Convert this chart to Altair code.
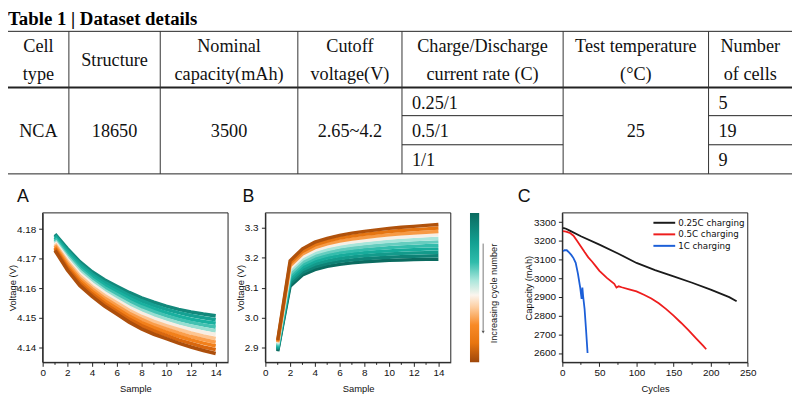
import altair as alt
import pandas as pd

# ----------------------------- data -----------------------------
table_title = "Table 1 | Dataset details"
header_labels = ["Cell\ntype", "Structure", "Nominal\ncapacity(mAh)", "Cutoff\nvoltage(V)",
                 "Charge/Discharge\ncurrent rate (C)", "Test temperature\n(°C)", "Number\nof cells"]
merged_values = ["NCA", "18650", "3500", "2.65~4.2", "25"]
merged_columns = [0, 1, 2, 3, 5]
rate_values = ["0.25/1", "0.5/1", "1/1"]
cell_counts = ["5", "19", "9"]

samples = list(range(1, 15))
# panel A: voltage curves, earliest cycle (top) to latest cycle (bottom)
voltage_a = [
    [4.1783, 4.1734, 4.1690, 4.1656, 4.1629, 4.1607, 4.1586, 4.1568, 4.1553, 4.1540, 4.1529, 4.1520, 4.1513, 4.1507],
    [4.1778, 4.1727, 4.1682, 4.1648, 4.1620, 4.1598, 4.1576, 4.1558, 4.1542, 4.1529, 4.1518, 4.1508, 4.1501, 4.1494],
    [4.1772, 4.1720, 4.1674, 4.1639, 4.1611, 4.1588, 4.1566, 4.1547, 4.1531, 4.1518, 4.1506, 4.1496, 4.1488, 4.1482],
    [4.1767, 4.1712, 4.1666, 4.1631, 4.1602, 4.1579, 4.1556, 4.1537, 4.1521, 4.1507, 4.1495, 4.1485, 4.1476, 4.1469],
    [4.1761, 4.1705, 4.1658, 4.1623, 4.1593, 4.1569, 4.1546, 4.1526, 4.1510, 4.1496, 4.1483, 4.1473, 4.1464, 4.1456],
    [4.1756, 4.1698, 4.1650, 4.1615, 4.1585, 4.1560, 4.1536, 4.1516, 4.1499, 4.1485, 4.1472, 4.1461, 4.1452, 4.1444],
    [4.1750, 4.1691, 4.1642, 4.1606, 4.1576, 4.1551, 4.1526, 4.1505, 4.1488, 4.1474, 4.1461, 4.1449, 4.1439, 4.1431],
    [4.1745, 4.1684, 4.1634, 4.1598, 4.1567, 4.1541, 4.1516, 4.1495, 4.1477, 4.1463, 4.1449, 4.1437, 4.1427, 4.1418],
    [4.1739, 4.1676, 4.1626, 4.1590, 4.1558, 4.1532, 4.1506, 4.1484, 4.1467, 4.1452, 4.1438, 4.1426, 4.1415, 4.1405],
    [4.1734, 4.1669, 4.1618, 4.1581, 4.1549, 4.1522, 4.1496, 4.1474, 4.1456, 4.1441, 4.1426, 4.1414, 4.1402, 4.1393],
    [4.1728, 4.1662, 4.1610, 4.1573, 4.1540, 4.1513, 4.1486, 4.1463, 4.1445, 4.1430, 4.1415, 4.1402, 4.1390, 4.1380],
]
colors_a = ["#12887b", "#15a193", "#19b09f", "#42c1b1", "#97ded1", "#f7eee4",
            "#fdc592", "#fa9d4a", "#f2801b", "#d9670e", "#ad4f0c"]
# panel B: voltage curves, earliest cycle (bottom) to latest cycle (top)
voltage_b = [
    [2.8870, 3.1050, 3.1420, 3.1600, 3.1710, 3.1780, 3.1830, 3.1865, 3.1890, 3.1910, 3.1925, 3.1935, 3.1945, 3.1950],
    [2.8908, 3.1135, 3.1508, 3.1692, 3.1804, 3.1877, 3.1929, 3.1967, 3.1994, 3.2017, 3.2035, 3.2047, 3.2059, 3.2066],
    [2.8946, 3.1220, 3.1596, 3.1784, 3.1898, 3.1974, 3.2028, 3.2068, 3.2098, 3.2124, 3.2144, 3.2158, 3.2172, 3.2182],
    [2.8984, 3.1305, 3.1684, 3.1876, 3.1992, 3.2071, 3.2127, 3.2170, 3.2202, 3.2231, 3.2254, 3.2270, 3.2286, 3.2298],
    [2.9022, 3.1390, 3.1772, 3.1968, 3.2086, 3.2168, 3.2226, 3.2271, 3.2306, 3.2338, 3.2363, 3.2381, 3.2399, 3.2414],
    [2.9060, 3.1475, 3.1860, 3.2060, 3.2180, 3.2265, 3.2325, 3.2373, 3.2410, 3.2445, 3.2473, 3.2493, 3.2513, 3.2530],
    [2.9098, 3.1560, 3.1948, 3.2152, 3.2274, 3.2362, 3.2424, 3.2474, 3.2514, 3.2552, 3.2582, 3.2604, 3.2626, 3.2646],
    [2.9136, 3.1645, 3.2036, 3.2244, 3.2368, 3.2459, 3.2523, 3.2576, 3.2618, 3.2659, 3.2692, 3.2716, 3.2740, 3.2762],
    [2.9174, 3.1730, 3.2124, 3.2336, 3.2462, 3.2556, 3.2622, 3.2677, 3.2722, 3.2766, 3.2801, 3.2827, 3.2853, 3.2878],
    [2.9212, 3.1815, 3.2212, 3.2428, 3.2556, 3.2653, 3.2721, 3.2779, 3.2826, 3.2873, 3.2911, 3.2939, 3.2967, 3.2994],
    [2.9250, 3.1900, 3.2300, 3.2520, 3.2650, 3.2750, 3.2820, 3.2880, 3.2930, 3.2980, 3.3020, 3.3050, 3.3080, 3.3110],
]
colors_b = ["#0b6b60", "#0f8276", "#139a8b", "#17ab9b", "#33bcac", "#66cdbf",
            "#a8e5da", "#f6efe6", "#f79a45", "#e57512", "#b0520c"]
colorbar_stops = [(0.0, "#0b6b60"), (0.2, "#13a092"), (0.33, "#2fbcab"), (0.45, "#a9e6db"),
                  (0.55, "#fbf5ee"), (0.63, "#fdcfa2"), (0.75, "#f88a27"), (0.87, "#e8750f"),
                  (1.0, "#9e470b")]

# panel C: capacity vs cycles
c_series = ["0.25C charging", "0.5C charging", "1C charging"]
c_colors = ["#1a1a1a", "#ee1d1d", "#1c5fd8"]
cycles_025 = [1, 5, 10, 25, 50, 75, 100, 125, 150, 175, 200, 225, 235]
cap_025 = [3270, 3265, 3255, 3225, 3180, 3133, 3082, 3044, 3010, 2976, 2939, 2899, 2877]
cycles_05 = [1, 5, 10, 15, 20, 25, 30, 35, 40, 45, 50, 60, 70, 73, 76, 80, 90, 100,
             110, 120, 130, 140, 150, 160, 170, 180, 190, 194]
cap_05 = [3252, 3250, 3243, 3228, 3200, 3170, 3140, 3112, 3090, 3065, 3040, 3002, 2970, 2950,
          2957, 2952, 2941, 2930, 2912, 2892, 2866, 2835, 2800, 2762, 2722, 2680, 2638, 2620]
cycles_1 = [1, 3, 6, 9, 12, 15, 18, 21, 24, 26, 27, 28, 30, 32, 34]
cap_1 = [3145, 3150, 3150, 3138, 3125, 3108, 3083, 3025, 2952, 2890, 2950, 2905, 2835, 2722, 2600]

# axis ticks
ticks_sample = [0, 2, 4, 6, 8, 10, 12, 14]
minor_sample = [1, 3, 5, 7, 9, 11, 13]
ticks_va = [4.14, 4.15, 4.16, 4.17, 4.18]
ticks_vb = [2.9, 3.0, 3.1, 3.2, 3.3]
ticks_cycles = [0, 50, 100, 150, 200, 250]
minor_cycles = [25, 75, 125, 175, 225]
ticks_cap = [2600, 2700, 2800, 2900, 3000, 3100, 3200, 3300]

# ----------------------------- layout -----------------------------
W, H = 792, 386
COL = [0, 61.5, 153.8, 292.8, 398.0, 560.8, 707.7, 792]
T_TOP, T_HEAD, T_BOT = 21.6, 78.4, 165.6
T_ROWS = [106.8, 136.2]
HEAD_LINE1, HEAD_MID, HEAD_LH = 36.8, 50.6, 27.6
PY0, PY1 = 205.0, 356.0
AX = (35.0, 222.3)
BX = (260.0, 447.3)
CX = (560.0, 747.3)
YTITLE_X = {"A": 4.2, "B": 234.5, "C": 526.0}

SERIF = "Liberation Serif, Times New Roman, serif"
SANS = "Liberation Sans, Arial, sans-serif"
LEG = "DejaVu Sans, sans-serif"

px_x = alt.Scale(domain=[0, W], range=[0, W], nice=False, zero=False)
px_y = alt.Scale(domain=[0, H], range=[0, H], nice=False, zero=False)


def PX(f):
    return alt.X(f, type="quantitative", scale=px_x, axis=None)


def PY(f):
    return alt.Y(f, type="quantitative", scale=px_y, axis=None)


# ---- table geometry ----
hl = [dict(x=0, x2=W, y=T_TOP, w=1.0), dict(x=0, x2=W, y=T_HEAD, w=2.0), dict(x=0, x2=W, y=T_BOT, w=1.0)]
for yy in T_ROWS:
    hl.append(dict(x=COL[4], x2=COL[5], y=yy, w=1.0))
    hl.append(dict(x=COL[6], x2=COL[7], y=yy, w=1.0))
hl_df = pd.DataFrame(hl)
vl_df = pd.DataFrame([dict(x=c, y=T_TOP, y2=T_BOT) for c in COL[1:7]])

head_df = pd.DataFrame(dict(
    t=header_labels,
    x=[(COL[i] + COL[i + 1]) / 2 for i in range(7)],
    y=[HEAD_LINE1 if "\n" in lab else HEAD_MID for lab in header_labels],
))
merged_df = pd.DataFrame(dict(
    t=merged_values,
    x=[(COL[i] + COL[i + 1]) / 2 for i in merged_columns],
    y=[(T_HEAD + T_BOT) / 2 + 0.5] * len(merged_values),
))
row_bounds = [T_HEAD] + T_ROWS + [T_BOT]
row_centers = [(row_bounds[i] + row_bounds[i + 1]) / 2 + 1 for i in range(3)]
left_df = pd.DataFrame(dict(
    t=rate_values + cell_counts,
    x=[COL[4] + 10] * 3 + [COL[6] + 10] * 3,
    y=row_centers * 2,
))
title_df = pd.DataFrame(dict(t=[table_title], x=[0], y=[15]))

rules_h = alt.Chart(hl_df).mark_rule(color="#222").encode(
    x=PX("x"), x2=alt.X2("x2"), y=PY("y"), strokeWidth=alt.StrokeWidth("w:Q", scale=None))
rules_v = alt.Chart(vl_df).mark_rule(color="#333", strokeWidth=1).encode(
    x=PX("x"), y=PY("y"), y2=alt.Y2("y2"))
head_txt = alt.Chart(head_df).mark_text(font=SERIF, fontSize=18.4, lineBreak="\n", lineHeight=HEAD_LH,
                                        align="center", baseline="middle", color="#111").encode(
    x=PX("x"), y=PY("y"), text="t:N")
merged_txt = alt.Chart(merged_df).mark_text(font=SERIF, fontSize=18.4, align="center",
                                            baseline="middle", color="#111").encode(
    x=PX("x"), y=PY("y"), text="t:N")
left_txt = alt.Chart(left_df).mark_text(font=SERIF, fontSize=18.4, align="left",
                                        baseline="middle", color="#111").encode(
    x=PX("x"), y=PY("y"), text="t:N")
title_txt = alt.Chart(title_df).mark_text(font=SERIF, fontSize=19, fontWeight="bold", align="left",
                                          baseline="alphabetic", color="#000").encode(
    x=PX("x"), y=PY("y"), text="t:N")

# ---- panel decorations ----
panel_df = pd.DataFrame(dict(t=["A", "B", "C"], x=[9, 237, 515], y=[189.5] * 3))
panel_txt = alt.Chart(panel_df).mark_text(font=SANS, fontSize=18, align="left", baseline="middle",
                                          color="#111").encode(x=PX("x"), y=PY("y"), text="t:N")
frames_df = pd.DataFrame(dict(x=[AX[0], BX[0], CX[0]], x2=[AX[1], BX[1], CX[1]],
                              y=[PY0] * 3, y2=[PY1] * 3))
frames = alt.Chart(frames_df).mark_rect(filled=False, stroke="#222", strokeWidth=1).encode(
    x=PX("x"), x2=alt.X2("x2"), y=PY("y"), y2=alt.Y2("y2"))

grad = alt.LinearGradient(gradient="linear", x1=0, x2=0, y1=0, y2=1,
                          stops=[alt.GradientStop(offset=o, color=c) for o, c in colorbar_stops])
cbar_df = pd.DataFrame(dict(x=[466.7], x2=[476.0], y=[PY0], y2=[PY1]))
cbar = alt.Chart(cbar_df).mark_rect(color=grad).encode(
    x=PX("x"), x2=alt.X2("x2"), y=PY("y"), y2=alt.Y2("y2"))
arrow_df = pd.DataFrame(dict(x=[480.0], y=[236.0], y2=[324.0]))
arrow = alt.Chart(arrow_df).mark_rule(color="#777", strokeWidth=1).encode(
    x=PX("x"), y=PY("y"), y2=alt.Y2("y2"))
head_df2 = pd.DataFrame(dict(x=[480.0], y=[325.5]))
arrow_head = alt.Chart(head_df2).mark_point(shape="triangle-down", filled=True, size=10,
                                            color="#555", opacity=1).encode(x=PX("x"), y=PY("y"))
cbar_lab_df = pd.DataFrame(dict(t=["Increasing cycle number"], x=[491.0], y=[286.5]))
cbar_lab = alt.Chart(cbar_lab_df).mark_text(font=SANS, fontSize=9.3, angle=270, align="center",
                                            baseline="middle", color="#222").encode(
    x=PX("x"), y=PY("y"), text="t:N")

# ---- legend of panel C ----
leg_df = pd.DataFrame(dict(t=c_series, col=c_colors, y=[215.0, 226.7, 238.3],
                           x=[652.0] * 3, x2=[674.0] * 3, tx=[677.0] * 3))
leg_lines = alt.Chart(leg_df).mark_rule(strokeWidth=2).encode(
    x=PX("x"), x2=alt.X2("x2"), y=PY("y"), color=alt.Color("col:N", scale=None))
leg_txt = alt.Chart(leg_df).mark_text(font=LEG, fontSize=8.8, align="left", baseline="middle",
                                      color="#111").encode(x=PX("tx"), y=PY("y"), text="t:N")

pixel_layer = alt.layer(rules_h, rules_v, head_txt, merged_txt, left_txt, title_txt, panel_txt,
                        frames, cbar, arrow, arrow_head, cbar_lab, leg_lines, leg_txt)


# ----------------------------- panels -----------------------------
def x_axis(values, title):
    return alt.Axis(orient="bottom", offset=PY1 - H, values=values, title=title,
                    labelFlush=False, labelOverlap=False, labelPadding=1,
                    titleBaseline="middle", titleY=26)


def y_axis(x0, values, title, fmt, pad, tx):
    return alt.Axis(orient="left", offset=-x0, values=values, title=title, format=fmt,
                    labelFlush=False, labelOverlap=False, labelPadding=pad,
                    titleAngle=270, titleBaseline="middle", titleAlign="center",
                    titleX=tx - x0, titleY=(PY0 + PY1) / 2)


def minor_ticks(values, scale, axis):
    return alt.Chart(pd.DataFrame(dict(m=values))).mark_rule(color="#222", strokeWidth=1).encode(
        x=alt.X("m:Q", scale=scale, axis=axis),
        y=alt.value(PY1), y2=alt.value(PY1 + 2.5))


def long_df(curves, prefix):
    rows = []
    for k, curve in enumerate(curves):
        for s, v in zip(samples, curve):
            rows.append(dict(sample=s, v=v, curve=f"{prefix}{k:02d}"))
    return pd.DataFrame(rows)


xs_a = alt.Scale(domain=[0, 15], range=list(AX), nice=False, zero=False)
xax_a = x_axis(ticks_sample, "Sample")
df_a = long_df(voltage_a, "a")
ids_a = [f"a{k:02d}" for k in range(len(voltage_a))]
lines_a = alt.Chart(df_a).mark_line(strokeWidth=3.6).encode(
    x=alt.X("sample:Q", scale=xs_a, axis=xax_a),
    y=alt.Y("v:Q", scale=alt.Scale(domain=[4.135, 4.1855], range=[PY1, PY0], nice=False, zero=False),
            axis=y_axis(AX[0], ticks_va, "Voltage (V)", ".2f", 3, YTITLE_X["A"])),
    color=alt.Color("curve:N", scale=alt.Scale(domain=ids_a, range=colors_a), legend=None),
)
chart_a = alt.layer(lines_a, minor_ticks(minor_sample, xs_a, xax_a))

xs_b = alt.Scale(domain=[0, 15], range=list(BX), nice=False, zero=False)
xax_b = x_axis(ticks_sample, "Sample")
df_b = long_df(voltage_b, "b")
ids_b = [f"b{k:02d}" for k in range(len(voltage_b))]
lines_b = alt.Chart(df_b).mark_line(strokeWidth=3.4).encode(
    x=alt.X("sample:Q", scale=xs_b, axis=xax_b),
    y=alt.Y("v:Q", scale=alt.Scale(domain=[2.85, 3.35], range=[PY1, PY0], nice=False, zero=False),
            axis=y_axis(BX[0], ticks_vb, "Voltage (V)", ".1f", 3.5, YTITLE_X["B"])),
    color=alt.Color("curve:N", scale=alt.Scale(domain=ids_b, range=colors_b), legend=None),
)
chart_b = alt.layer(lines_b, minor_ticks(minor_sample, xs_b, xax_b))

xs_c = alt.Scale(domain=[0, 250], range=list(CX), nice=False, zero=False)
xax_c = x_axis(ticks_cycles, "Cycles")
df_c = pd.concat([
    pd.DataFrame(dict(cycle=cycles_025, cap=cap_025, s=c_series[0])),
    pd.DataFrame(dict(cycle=cycles_05, cap=cap_05, s=c_series[1])),
    pd.DataFrame(dict(cycle=cycles_1, cap=cap_1, s=c_series[2])),
], ignore_index=True)
lines_c = alt.Chart(df_c).mark_line(strokeWidth=1.8).encode(
    x=alt.X("cycle:Q", scale=xs_c, axis=xax_c),
    y=alt.Y("cap:Q", scale=alt.Scale(domain=[2550, 3350], range=[PY1, PY0], nice=False, zero=False),
            axis=y_axis(CX[0], ticks_cap, "Capacity (mAh)", "d", 3, YTITLE_X["C"])),
    color=alt.Color("s:N", scale=alt.Scale(domain=c_series, range=c_colors), legend=None),
    order=alt.Order("cycle:Q"),
)
chart_c = alt.layer(lines_c, minor_ticks(minor_cycles, xs_c, xax_c))

chart = alt.layer(pixel_layer, chart_a, chart_b, chart_c).resolve_scale(
    x="independent", y="independent", color="independent"
).properties(
    width=W, height=H, padding=0, autosize=alt.AutoSizeParams(type="none"), background="white"
).configure_view(stroke=None).configure_axis(
    grid=False, labelFont=SANS, labelFontSize=10, titleFont=SANS, titleFontSize=9.5,
    titleFontWeight="normal", labelColor="#111", titleColor="#111", domainColor="#222",
    tickColor="#222", tickSize=4, domainWidth=1, tickWidth=1
)

chart.save("out.html", embed_options={"renderer": "svg", "actions": False})
